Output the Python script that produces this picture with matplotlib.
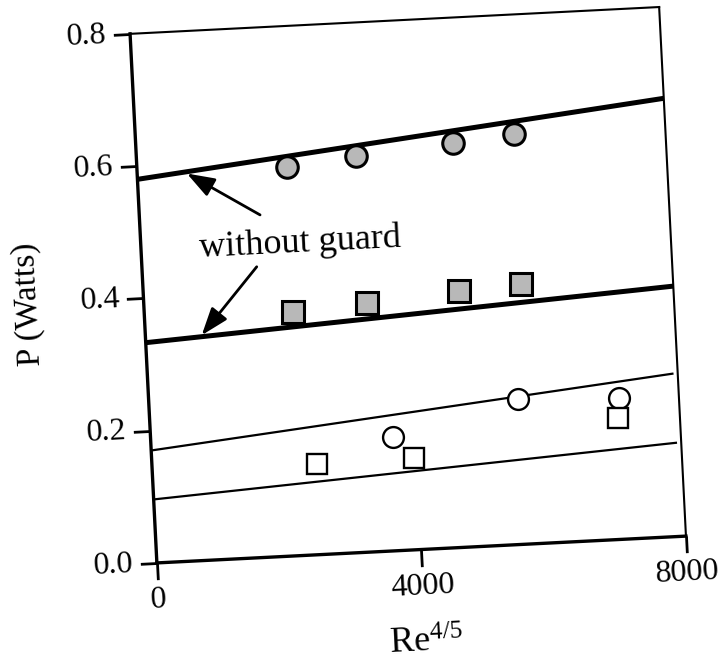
import matplotlib
matplotlib.use('Agg')
import matplotlib.pyplot as plt
from matplotlib.transforms import Affine2D
from mpl_toolkits.axisartist import floating_axes
from mpl_toolkits.axisartist.grid_finder import FixedLocator, DictFormatter

plt.rcParams['font.family'] = ['Liberation Serif', 'DejaVu Serif']
plt.rcParams['mathtext.fontset'] = 'custom'
plt.rcParams['mathtext.rm'] = 'Liberation Serif'
plt.rcParams['mathtext.it'] = 'Liberation Serif:italic'

# measured points, x = Re^(4/5), y = power in watts
circ_fill_x = [2260, 3313, 4781, 5711]
circ_fill_p = [0.587, 0.598, 0.611, 0.619]
sq_fill_x = [2249, 3372, 4763, 5699]
sq_fill_p = [0.368, 0.376, 0.387, 0.393]
circ_open_x = [3653, 5576, 7099]
circ_open_p = [0.172, 0.220, 0.214]
sq_open_x = [2487, 3963, 7060]
sq_open_p = [0.137, 0.139, 0.184]

# straight-line fits, given at their end points
fit_x_thick = [0, 8000]
fit_circ_fill = [0.580, 0.662]
fit_sq_fill = [0.333, 0.378]
fit_x_thin = [0, 7920]
fit_circ_open = [0.170, 0.246]
fit_sq_open = [0.096, 0.1415]

x_ticks = [0, 4000, 8000]
x_tick_labels = ['0', '4000', '8000']
y_ticks = [0.0, 0.2, 0.4, 0.6, 0.8]
y_tick_labels = ['0.0', '0.2', '0.4', '0.6', '0.8']

tilt = 2.9
fig = plt.figure(figsize=(7.21, 6.67), dpi=100)
tr = Affine2D().scale(1 / 8000, 1 / 0.8).rotate_deg(tilt)
helper = floating_axes.GridHelperCurveLinear(
    tr, extremes=(0, 8000, 0, 0.8),
    grid_locator1=FixedLocator(x_ticks),
    grid_locator2=FixedLocator(y_ticks),
    tick_formatter1=DictFormatter(dict(zip(x_ticks, x_tick_labels))),
    tick_formatter2=DictFormatter(dict(zip(y_ticks, y_tick_labels))))
ax = fig.add_axes([0.1727, 0.1477, 0.7864, 0.8501],
                  axes_class=floating_axes.FloatingAxes, grid_helper=helper)
aux = ax.get_aux_axes(tr)

for side in ['left', 'bottom']:
    a = ax.axis[side]
    a.line.set_linewidth(2.4)
    a.major_ticks.set_tick_out(True)
    a.major_ticks.set_ticksize(12)
    a.major_ticks.set_markeredgewidth(2)
    a.major_ticklabels.set_fontsize(23)
    a.major_ticklabels.set_pad(5)
    a.label.set_fontsize(24)
for side in ['top', 'right']:
    ax.axis[side].line.set_linewidth(1.5)
    ax.axis[side].toggle(ticks=False, ticklabels=False, label=False)

ax.axis['left'].label.set_text('P (Watts)')
ax.axis['left'].label.set_pad(26)
ax.axis['bottom'].label.set_text(r'Re$^{4/5}$')
ax.axis['bottom'].label.set_fontsize(26)
ax.axis['bottom'].label.set_pad(24)

# fit lines
aux.plot(fit_x_thick, fit_circ_fill, color='k', lw=3.6, solid_capstyle='butt')
aux.plot(fit_x_thick, fit_sq_fill, color='k', lw=3.6, solid_capstyle='butt')
aux.plot(fit_x_thin, fit_circ_open, color='k', lw=1.6)
aux.plot(fit_x_thin, fit_sq_open, color='k', lw=1.6)

# data points
aux.plot(circ_fill_x, circ_fill_p, 'o', ms=15.5, mfc='#b8b8b8', mec='k', mew=2.2, zorder=3)
aux.plot(sq_fill_x, sq_fill_p, 's', ms=15.5, mfc='#b8b8b8', mec='k', mew=2.2, zorder=3)
aux.plot(circ_open_x, circ_open_p, 'o', ms=15, mfc='white', mec='k', mew=1.7, zorder=3)
aux.plot(sq_open_x, sq_open_p, 's', ms=15, mfc='white', mec='k', mew=1.7, zorder=3)

# label for the two thick lines
aux.text(2403, 0.472, 'without guard', fontsize=26, ha='center', va='center',
         rotation=tilt)
arrow = dict(arrowstyle='-|>,head_length=0.7,head_width=0.25', mutation_scale=24,
             lw=2, color='k', shrinkA=0, shrinkB=0)
aux.annotate('', xy=(750, 0.585), xytext=(1822, 0.517), arrowprops=arrow)
aux.annotate('', xy=(850, 0.340), xytext=(1732, 0.439), arrowprops=arrow)

fig.savefig('out.png', dpi=100)
